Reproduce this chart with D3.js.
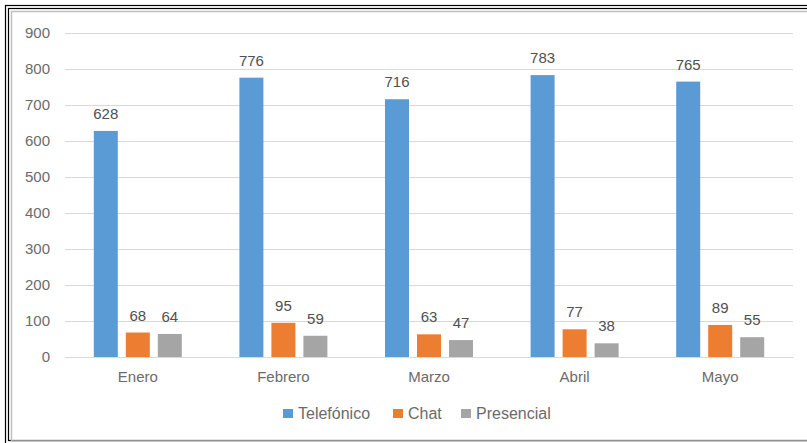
<!DOCTYPE html>
<html><head><meta charset="utf-8">
<script src="https://cdn.jsdelivr.net/npm/d3@7"></script>
<style>body{margin:0;background:#fff}svg{display:block}</style>
</head><body><svg id="c" width="807" height="443"></svg>
<script>
const categories = ["Enero","Febrero","Marzo","Abril","Mayo"];
const seriesNames = ["Telefónico","Chat","Presencial"];
const telefonico = [628,776,716,783,765];
const chat = [68,95,63,77,89];
const presencial = [64,59,47,38,55];
const yTicks = [0,100,200,300,400,500,600,700,800,900];
const colors = ["#5B9BD5","#ED7D31","#A5A5A5"];
const series = [telefonico, chat, presencial];

const svg = d3.select("#c");
const font = "'Liberation Sans', Arial, sans-serif";
// frame
svg.append("rect").attr("x",5.5).attr("y",5.5).attr("width",830).attr("height",460).attr("fill","none").attr("stroke","#000").attr("stroke-width",1.2);
svg.append("rect").attr("x",8.5).attr("y",8.5).attr("width",830).attr("height",432).attr("fill","none").attr("stroke","#000").attr("stroke-width",1.2);
svg.append("rect").attr("x",11.5).attr("y",11.5).attr("width",830).attr("height",429.5).attr("fill","none").attr("stroke","#bfbfbf").attr("stroke-width",1.5);

const x = d3.scaleBand().domain(categories).range([65,793]);
const y = d3.scaleLinear().domain([0,900]).range([357,33]);
const barW = 24, gap = 8;

const yAxis = d3.axisLeft(y).tickValues(yTicks).tickSize(-(793-65)).tickPadding(15);
const ga = svg.append("g").attr("transform","translate(65,0)").call(yAxis);
ga.select(".domain").remove();
ga.selectAll(".tick line").attr("stroke","#d9d9d9").attr("stroke-width",1);
ga.selectAll(".tick text").attr("fill","#6b6b6b").attr("font-size",15).attr("font-family",font);

const xAxis = d3.axisBottom(x).tickSize(0).tickPadding(14);
const gx = svg.append("g").attr("transform","translate(0,357)").call(xAxis);
gx.select(".domain").attr("stroke","#d9d9d9");
gx.selectAll(".tick text").attr("fill","#6b6b6b").attr("font-size",15).attr("font-family",font);

series.forEach((vals,si)=>{
  const g = svg.append("g");
  categories.forEach((c,i)=>{
    const cx = x(c) + x.bandwidth()/2;
    const bx = cx - (3*barW+2*gap)/2 + si*(barW+gap);
    g.append("rect").attr("x",bx).attr("y",y(vals[i])).attr("width",barW).attr("height",y(0)-y(vals[i])).attr("fill",colors[si]);
    g.append("text").attr("x",bx+barW/2).attr("y",y(vals[i])-12).attr("text-anchor","middle")
      .attr("fill","#505050").attr("font-size",15).attr("font-family",font).text(vals[i]);
  });
});

// legend
const legX = [283,393,461];
seriesNames.forEach((n,i)=>{
  svg.append("rect").attr("x",legX[i]).attr("y",409).attr("width",10).attr("height",9).attr("fill",colors[i]);
  svg.append("text").attr("x",legX[i]+15).attr("y",419).attr("fill","#6b6b6b").attr("font-size",16).attr("font-family",font).text(n);
});
</script></body></html>
